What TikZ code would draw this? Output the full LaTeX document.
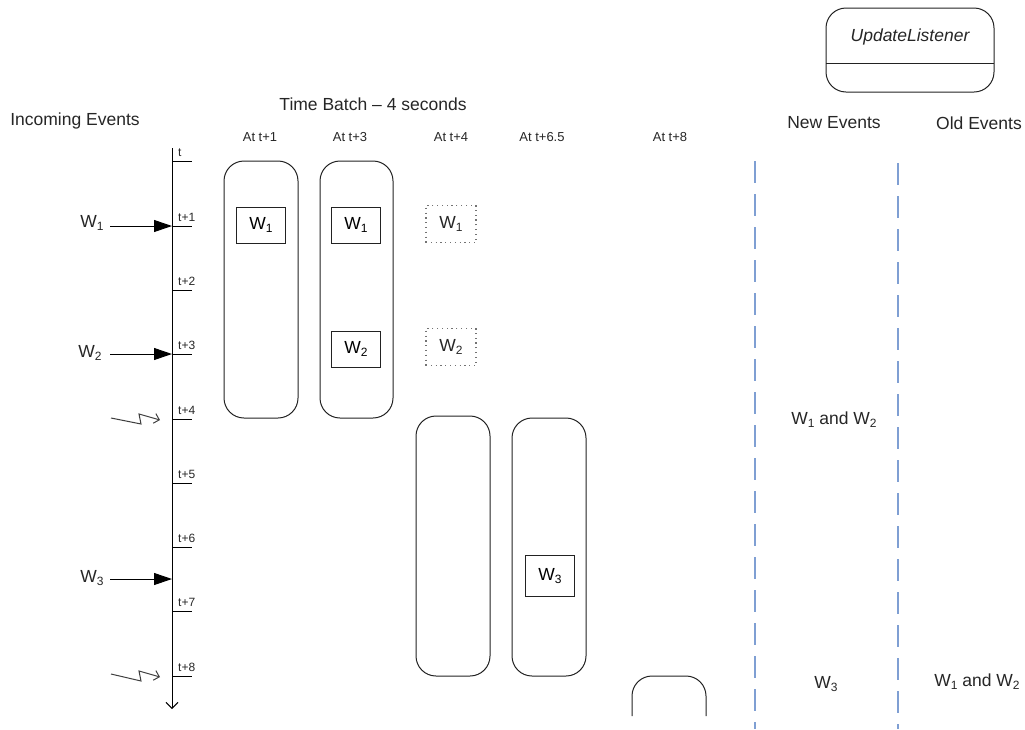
\documentclass[tikz,border=0pt]{standalone}
\usepackage{fontspec}
\setmainfont{Liberation Sans}
\usetikzlibrary{arrows.meta}
\newcommand{\Wsub}[1]{W\raisebox{-0.35ex}{\fontsize{12}{12}\selectfont #1}}
\definecolor{dashblue}{HTML}{7F9FD3}
\definecolor{lineg}{HTML}{222222}
\begin{document}
\begin{tikzpicture}[x=1pt,y=-1pt,
  lbl/.style={font=\fontsize{17.5}{20}\selectfont, text=black!85, inner sep=0pt},
  hdr/.style={font=\fontsize{13}{15}\selectfont, text=black!85, inner sep=0pt},
  ticklbl/.style={font=\fontsize{12}{14}\selectfont, text=black!85, inner sep=0pt, anchor=base west},
  batch/.style={draw=lineg, line width=1pt, rounded corners=20pt},
  evbox/.style={draw=lineg, line width=1pt, minimum width=49pt, minimum height=36pt, inner sep=0pt, font=\fontsize{17.5}{20}\selectfont},
  ghost/.style={draw=black!55, line width=1.2pt, dash pattern=on 1.2pt off 3.6pt, minimum width=50pt, minimum height=37pt, inner sep=0pt, font=\fontsize{17.5}{20}\selectfont, text=black!85},
  sep/.style={draw=dashblue, line width=1.5pt, dash pattern=on 22pt off 11pt},
  inarrow/.style={draw=black, line width=1pt, -{Triangle[length=18pt,width=12pt]}},
  bolt/.style={draw=black!75, line width=1pt, -{Straight Barb[length=5pt,width=10pt]}}
]
\useasboundingbox (0,0) rectangle (1025,729);

% timeline
\coordinate (tltop) at (172,148);
\coordinate (tlbot) at (172,709);
\draw[line width=1pt, -{Straight Barb[length=6pt,width=12pt]}] (tltop) -- (tlbot);
\foreach \i/\y/\l in {0/161/t,1/226/t+1,2/290/t+2,3/354/t+3,4/419/t+4,5/483/t+5,6/547/t+6,7/611/t+7,8/676/t+8}{
  \coordinate (tk\i) at (172,\y);
  \coordinate (tke\i) at (192,\y);
  \draw[line width=1pt] (tk\i) -- (tke\i);
  \node[ticklbl] (tl\i) at (178,\y-5) {\l};
}

% headers
\node[lbl] (incoming) at (75,121) {Incoming Events};
\node[lbl] (tbatch) at (373,104) {Time Batch -- 4 seconds};
\node[hdr] (h1) at (260,137) {At t+1};
\node[hdr] (h2) at (350,137) {At t+3};
\node[hdr] (h3) at (451,137) {At t+4};
\node[hdr] (h4) at (542,137) {At t+6.5};
\node[hdr] (h5) at (670,137) {At t+8};
\node[lbl] (newev) at (834,123) {New Events};
\node[lbl] (oldev) at (979,123) {Old Events};

% incoming events
\node[lbl] (w1in) at (92,223) {\Wsub{1}};
\node[lbl] (w2in) at (90,353) {\Wsub{2}};
\node[lbl] (w3in) at (92,578) {\Wsub{3}};
\coordinate (a1) at (110,226);
\coordinate (a2) at (110,354);
\coordinate (a3) at (110,579);
\coordinate (a3e) at (172,579);
\draw[inarrow] (a1) -- (tk1);
\draw[inarrow] (a2) -- (tk3);
\draw[inarrow] (a3) -- (a3e);

% lightning bolts
\coordinate (b1s) at (111,418);
\coordinate (b1a) at (141,424);
\coordinate (b1b) at (139,414);
\coordinate (b1e) at (160,420);
\draw[bolt] (b1s) -- (b1a) -- (b1b) -- (b1e);
\coordinate (b2s) at (111,674);
\coordinate (b2a) at (141,681);
\coordinate (b2b) at (139,671);
\coordinate (b2e) at (160,677);
\draw[bolt] (b2s) -- (b2a) -- (b2b) -- (b2e);

% batches
\draw[batch] (224,161) rectangle (298,418);
\draw[batch] (320,161) rectangle (393,418);
\draw[batch] (416,416) rectangle (490,676);
\draw[batch] (512,418) rectangle (586,676);
\draw[batch] (632,716) -- (632,676) -- (706,676) -- (706,716);

% events in batches
\node[evbox] (b1w1) at (261,225) {\Wsub{1}};
\node[evbox] (b2w1) at (356,225) {\Wsub{1}};
\node[evbox] (b2w2) at (356,349) {\Wsub{2}};
\node[ghost] (b3w1) at (451,224) {\Wsub{1}};
\node[ghost] (b3w2) at (451,347) {\Wsub{2}};
\node[evbox, minimum height=41pt] (b4w3) at (550,576) {\Wsub{3}};

% separators
\coordinate (s1t) at (755,161);
\coordinate (s1b) at (755,729);
\coordinate (s2t) at (898,163);
\coordinate (s2b) at (898,729);
\draw[sep] (s1t) -- (s1b);
\draw[sep] (s2t) -- (s2b);

% results
\node[lbl] (r1) at (834,420) {\Wsub{1} and \Wsub{2}};
\node[lbl] (r2) at (826,684) {\Wsub{3}};
\node[lbl] (r3) at (977,682) {\Wsub{1} and \Wsub{2}};

% update listener
\draw[batch] (826,8) rectangle (994,92);
\draw[line width=1pt, draw=lineg] (826,63) -- (994,63);
\node[lbl, font=\fontsize{17.5}{20}\selectfont\itshape] (ul) at (910,37) {UpdateListener};
\end{tikzpicture}
\end{document}
